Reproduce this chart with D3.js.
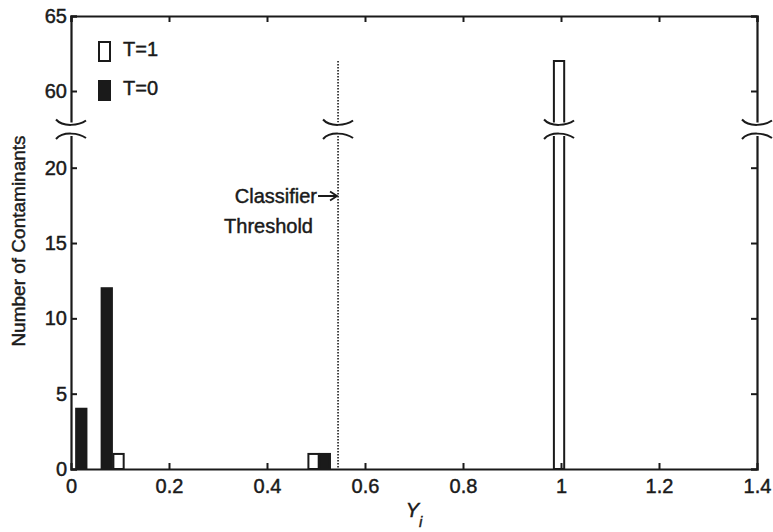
<!DOCTYPE html>
<html>
<head>
<meta charset="utf-8">
<script src="https://cdn.jsdelivr.net/npm/d3@7"></script>
<style>
  html, body { margin: 0; padding: 0; background: #fff; }
  svg text { font-family: "Liberation Sans", Arial, Helvetica, sans-serif; fill: #1a1a1a; stroke: #1a1a1a; stroke-width: 0.45px; }
</style>
</head>
<body>
<svg id="chart" width="773" height="532"></svg>
<script>
// ---- data ----
const t0Centers = [0.021, 0.073, 0.518];   // T=0 (filled) bar positions on Y_i
const t0Counts  = [4, 12, 1];
const t1Centers = [0.097, 0.495, 0.996];   // T=1 (open) bar positions on Y_i
const t1Counts  = [1, 1, 62];
const barWidth  = 0.021;
const threshold = 0.545;
const thresholdTop = 62;
const xTicks = [0, 0.2, 0.4, 0.6, 0.8, 1, 1.2, 1.4];
const yTicks = [0, 5, 10, 15, 20, 60, 65];
const breakLow = 23, breakHigh = 57;       // broken y axis between these values
const legendLabels = ["T=1", "T=0"];

// ---- layout ----
const svg = d3.select("#chart");
const L = 71, R = 757, T = 16, B = 469;
const x = d3.scaleLinear().domain([0, 1.4]).range([L, R]);
const y = d3.scaleLinear().domain([0, breakLow, breakHigh, 65]).range([B, 122.5, 136, T]);

const ink = "#1a1a1a";
const g = svg.append("g");

// bars
const t0 = t0Centers.map((c, i) => ({c, n: t0Counts[i]}));
const t1 = t1Centers.map((c, i) => ({c, n: t1Counts[i]}));
g.selectAll("rect.t1").data(t1).enter().append("rect")
  .attr("x", d => x(d.c - barWidth / 2)).attr("width", d => x(d.c + barWidth / 2) - x(d.c - barWidth / 2))
  .attr("y", d => y(d.n)).attr("height", d => B - y(d.n))
  .attr("fill", "#fff").attr("stroke", ink).attr("stroke-width", 2);
g.selectAll("rect.t0").data(t0).enter().append("rect")
  .attr("x", d => x(d.c - barWidth / 2)).attr("width", d => x(d.c + barWidth / 2) - x(d.c - barWidth / 2))
  .attr("y", d => y(d.n)).attr("height", d => B - y(d.n))
  .attr("fill", ink).attr("stroke", ink).attr("stroke-width", 2);

// threshold line
g.append("line")
  .attr("x1", x(threshold)).attr("x2", x(threshold))
  .attr("y1", y(thresholdTop)).attr("y2", B)
  .attr("stroke", ink).attr("stroke-width", 1.6).attr("stroke-dasharray", "1.5,1.5");

// axes
const tickFont = "20px";
const ax = g.append("g").attr("transform", `translate(0,${B})`)
  .call(d3.axisBottom(x).tickValues(xTicks).tickSize(-6).tickPadding(10).tickFormat(d3.format("")));
const axTop = g.append("g").attr("transform", `translate(0,${T})`)
  .call(d3.axisTop(x).tickValues(xTicks).tickSize(-6).tickFormat(""));
const ay = g.append("g").attr("transform", `translate(${L},0)`)
  .call(d3.axisLeft(y).tickValues(yTicks).tickSize(-6).tickPadding(4));
const ayR = g.append("g").attr("transform", `translate(${R},0)`)
  .call(d3.axisRight(y).tickValues(yTicks).tickSize(-6).tickFormat(""));
[ax, axTop, ay, ayR].forEach(a => {
  a.selectAll("path.domain").attr("stroke", ink).attr("stroke-width", 2.2);
  a.selectAll(".tick line").attr("stroke", ink).attr("stroke-width", 2);
  a.selectAll(".tick text").style("font-size", tickFont).attr("fill", ink);
});
ax.selectAll(".tick line").filter(d => d === 0 || d === 1.4).remove();

// axis break gaps and marks
const yb1 = y(breakLow), yb2 = y(breakHigh);
const breakXs = [L, x(threshold), x(t1Centers[2]), R];
breakXs.forEach(bx => {
  g.append("rect").attr("x", bx - 9).attr("y", yb1).attr("width", 18).attr("height", yb2 - yb1).attr("fill", "#fff");
  g.append("path")
    .attr("d", `M${bx - 15},${yb1 - 3} C${bx - 8},${yb1 + 5} ${bx + 8},${yb1 + 3} ${bx + 15},${yb1 - 2}`)
    .attr("fill", "none").attr("stroke", ink).attr("stroke-width", 2);
  g.append("path")
    .attr("d", `M${bx - 15},${yb2 + 3} C${bx - 8},${yb2 - 5} ${bx + 8},${yb2 - 3} ${bx + 15},${yb2 + 2}`)
    .attr("fill", "none").attr("stroke", ink).attr("stroke-width", 2);
});

// annotation
const tx = x(threshold);
g.append("text").attr("x", tx - 21).attr("y", 203).attr("text-anchor", "end")
  .style("font-size", "20px").text("Classifier");
g.append("path").attr("d", `M${tx - 20},${196} H${tx - 2}`)
  .attr("stroke", ink).attr("stroke-width", 2).attr("fill", "none");
g.append("path").attr("d", `M${tx - 8},${191.5} L${tx - 1},${196} L${tx - 8},${200.5}`)
  .attr("stroke", ink).attr("stroke-width", 1.8).attr("fill", "none");
g.append("text").attr("x", tx - 114).attr("y", 233)
  .style("font-size", "20px").text("Threshold");

// legend
const leg = g.append("g");
legendLabels.forEach((lab, i) => {
  const ly = 41 + i * 39;
  leg.append("rect").attr("x", 99).attr("y", ly + 1).attr("width", 11).attr("height", 19)
    .attr("fill", i === 0 ? "#fff" : ink).attr("stroke", ink).attr("stroke-width", 2);
  leg.append("text").attr("x", 123).attr("y", ly + 14.5).style("font-size", "20px").text(lab);
});

// axis labels
g.append("text").attr("transform", `translate(25,241) rotate(-90)`).attr("text-anchor", "middle")
  .style("font-size", "19px").text("Number of Contaminants");
const xl = g.append("text").attr("x", (L + R) / 2).attr("y", 517).attr("text-anchor", "middle")
  .style("font-size", "20px").style("font-style", "italic");
xl.append("tspan").text("Y");
xl.append("tspan").attr("dy", 10).style("font-size", "15px").text("i");
</script>
</body>
</html>
